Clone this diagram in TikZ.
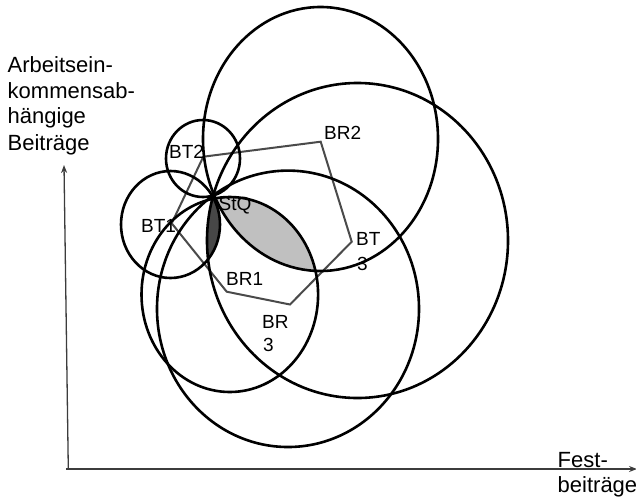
\documentclass[tikz,border=0pt]{standalone}
\usepackage{fontspec}
\setmainfont{Liberation Sans}
\usetikzlibrary{arrows.meta}
\definecolor{polygray}{HTML}{4A4A4A}
\definecolor{axisgray}{HTML}{3C3C3C}
\definecolor{lensLight}{HTML}{C0C0C0}
\definecolor{lensDark}{HTML}{474747}
\begin{document}
\begin{tikzpicture}[x=1pt,y=-1pt,
  curve/.style={line width=2.6pt, draw=black},
  poly/.style={line width=2pt, draw=polygray, line join=miter},
  lbl/.style={inner sep=0pt, anchor=base west, font=\fontsize{19}{24}\selectfont},
  axlbl/.style={inner sep=0pt, anchor=base west, font=\fontsize{22}{26}\selectfont},
  axisline/.style={line width=1.3pt, draw=axisgray, -{Stealth[length=8pt,width=6pt]}}]
\useasboundingbox (0,0) rectangle (636,498);

% ideal points (polygon vertices = circle centres)
\coordinate (BT2) at (203.3,156.7);
\coordinate (BR2) at (320.7,141.7);
\coordinate (BT3) at (351.7,241.7);
\coordinate (BR3) at (290,304.5);
\coordinate (BR1) at (226.7,291.7);
\coordinate (BT1) at (171.7,223.3);

% shaded lenses
\begin{scope}
  \clip (320.5,139) ellipse [x radius=117.5pt, y radius=132pt];
  \fill[lensLight] (229.8,294.5) ellipse [x radius=88.3pt, y radius=97.5pt];
\end{scope}
\begin{scope}
  \clip (170.5,224.5) ellipse [x radius=49.5pt, y radius=53.5pt];
  \fill[lensDark] (357.5,240.5) ellipse [x radius=150.5pt, y radius=157.5pt];
\end{scope}

% polygon of ideal points
\draw[poly] (BT2) -- (BR2) -- (BT3) -- (BR3) -- (BR1) -- (BT1) -- cycle;

% indifference curves through StQ
\draw[curve] (203,158.5) ellipse [x radius=37pt, y radius=38.5pt];      % BT2
\draw[curve] (170.5,224.5) ellipse [x radius=49.5pt, y radius=53.5pt];  % BT1
\draw[curve] (320.5,139) ellipse [x radius=117.5pt, y radius=132pt];    % BR2
\draw[curve] (357.5,240.5) ellipse [x radius=150.5pt, y radius=157.5pt];% BT3
\draw[curve] (229.8,294.5) ellipse [x radius=88.3pt, y radius=97.5pt];  % BR1
\draw[curve] (288,308.8) ellipse [x radius=131pt, y radius=138.2pt];    % BR3

% axes
\coordinate (O) at (68.3,469);
\coordinate (Ytop) at (64,165);
\coordinate (Xend) at (637,469);
\draw[axisline] (O) -- (Ytop);
\draw[axisline] (66,469) -- (Xend);

% labels
\node[lbl] (lBT2) at (169,158.5) {BT2};
\node[lbl] (lBR2) at (324,139) {BR2};
\node[lbl] (lStQ) at (218.5,210) {StQ};
\node[lbl] (lBT1) at (141,232) {BT1};
\node[lbl] (lBT3a) at (356,245) {BT};
\node[lbl] (lBT3b) at (357,270) {3};
\node[lbl] (lBR1) at (226,285) {BR1};
\node[lbl] (lBR3a) at (262,328) {BR};
\node[lbl] (lBR3b) at (263,351) {3};

\node[axlbl] (ya) at (7.5,72) {Arbeitsein-};
\node[axlbl] (yb) at (7.5,98) {kommensab-};
\node[axlbl] (yc) at (7.5,123.5) {hängige};
\node[axlbl] (yd) at (7.5,150) {Beiträge};
\node[axlbl] (xa) at (557.5,467) {Fest-};
\node[axlbl] (xb) at (557.5,492) {beiträge};
\end{tikzpicture}
\end{document}
